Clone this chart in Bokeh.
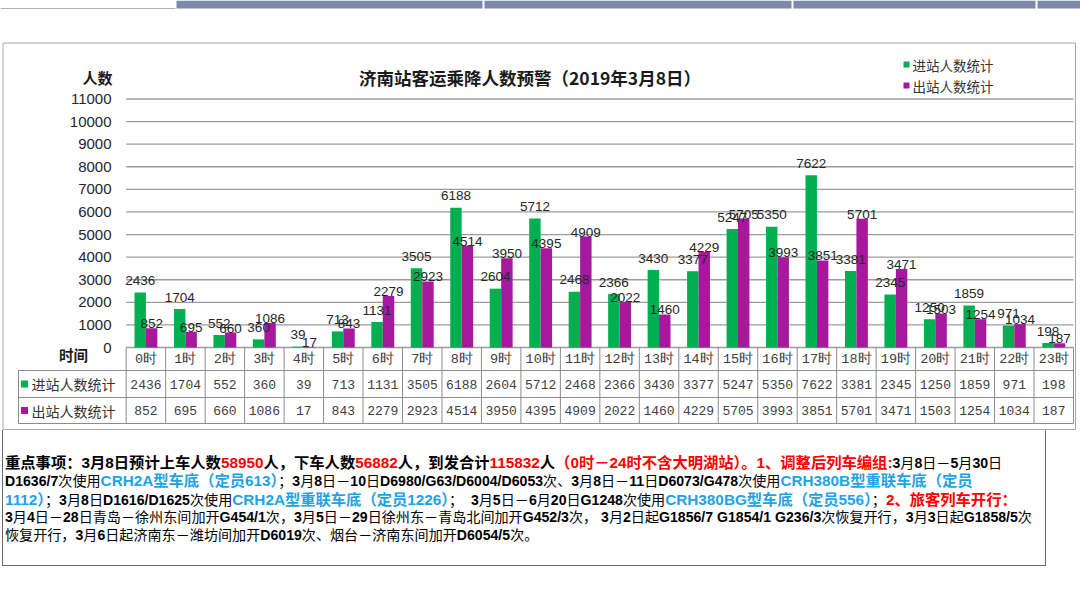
import re
from bokeh.plotting import figure
from bokeh.models import Range1d, Div
from bokeh.layouts import column
from bokeh.core.properties import value
from bokeh.embed import file_html
from bokeh.resources import INLINE

# ---------------- data ----------------
title_text = "济南站客运乘降人数预警（2019年3月8日）"
y_label = "人数"
x_label = "时间"
hours = ["0时", "1时", "2时", "3时", "4时", "5时", "6时", "7时", "8时", "9时", "10时", "11时",
         "12时", "13时", "14时", "15时", "16时", "17时", "18时", "19时", "20时", "21时", "22时", "23时"]
series_names = ["进站人数统计", "出站人数统计"]
entering = [2436, 1704, 552, 360, 39, 713, 1131, 3505, 6188, 2604, 5712, 2468,
            2366, 3430, 3377, 5247, 5350, 7622, 3381, 2345, 1250, 1859, 971, 198]
leaving = [852, 695, 660, 1086, 17, 843, 2279, 2923, 4514, 3950, 4395, 4909,
           2022, 1460, 4229, 5705, 3993, 3851, 5701, 3471, 1503, 1254, 1034, 187]
y_ticks = [0, 1000, 2000, 3000, 4000, 5000, 6000, 7000, 8000, 9000, 10000, 11000]

GREEN = "#00B050"
PURPLE = "#A6199E"
RED = "#FF0000"
BLUE = "#1FA3E3"
TXT = "#262626"
GRID = "#9c9c9c"
TABLE = "#8c8c8c"
TAB = "#7A8AA8"

# ---------------- layout (page pixel space) ----------------
W, H = 1080, 430
X0, X1 = 0.0, 1080.0
TOP, BOT = 0.0, 430.0
PL, PR = 125.7, 1073.0
PT, PB = 98.5, 347.0
n = len(hours)
colw = (PR - PL) / n
vpp = y_ticks[-1] / (PB - PT)

p = figure(width=W, height=H, x_range=Range1d(X0, X1), y_range=Range1d(BOT, TOP),
           output_backend="svg", toolbar_location=None,
           x_axis_location=None, y_axis_location=None, min_border=0,
           outline_line_color=None, background_fill_color="white")
p.extra_x_ranges = {"hx": Range1d((X0 - PL) / colw, (X1 - PL) / colw)}
p.extra_y_ranges = {"val": Range1d(-(BOT - PB) * vpp, (PB - TOP) * vpp)}
p.grid.visible = False

# spreadsheet tabs at the top
p.quad(left=[176, 484, 793, 1037], right=[482, 791, 1035, 1080], top=[0, 0, 0, 0],
       bottom=[8, 8, 8, 8], fill_color=TAB, line_color=None)
p.segment(x0=[0], x1=[175], y0=[8], y1=[8], line_color="#b0b0b0", line_width=1)

# chart box
p.quad(left=[2.5], right=[1075], top=[42.5], bottom=[429], fill_color=None,
       line_color="#a6a6a6", line_width=1)

# gridlines
p.segment(x0=[PL] * len(y_ticks), x1=[PR] * len(y_ticks), y0=y_ticks, y1=y_ticks,
          y_range_name="val", line_color=GRID, line_width=1.3)
# y tick labels
p.text(x=[111] * len(y_ticks), y=y_ticks, text=[str(t) for t in y_ticks], y_range_name="val",
       text_align="right", text_baseline="middle", text_font=value("Liberation Sans"),
       text_font_size="15px", text_color=TXT)

# bars
idx = list(range(n))
xg = [i + 0.5 - 0.145 for i in idx]
xp = [i + 0.5 + 0.145 for i in idx]
p.vbar(x=xg, top=entering, bottom=0, width=0.29, x_range_name="hx", y_range_name="val",
       fill_color=GREEN, line_color=None)
p.vbar(x=xp, top=leaving, bottom=0, width=0.29, x_range_name="hx", y_range_name="val",
       fill_color=PURPLE, line_color=None)

# data labels
p.text(x=xg, y=[v + 520 for v in entering], text=[str(v) for v in entering],
       x_range_name="hx", y_range_name="val", text_align="center", text_baseline="middle",
       text_font=value("Liberation Sans"), text_font_size="13.5px", text_color=TXT)
p.text(x=xp, y=[v + 200 for v in leaving], text=[str(v) for v in leaving],
       x_range_name="hx", y_range_name="val", text_align="center", text_baseline="middle",
       text_font=value("Liberation Sans"), text_font_size="13.5px", text_color=TXT)

# data table
cols = list(range(n + 1))
p.segment(x0=cols, x1=cols, y0=[PB] * (n + 1), y1=[423] * (n + 1), x_range_name="hx",
          line_color=TABLE, line_width=1)
p.segment(x0=[18, 18, 18], x1=[PR, PR, PR], y0=[370, 397, 423], y1=[370, 397, 423],
          line_color=TABLE, line_width=1)
p.segment(x0=[18], x1=[18], y0=[370], y1=[423], line_color=TABLE, line_width=1)

xc = [i + 0.5 for i in idx]
p.text(x=xc, y=[358.5] * n, text=hours, x_range_name="hx", text_align="center",
       text_baseline="middle", text_font=value("Liberation Mono"), text_font_size="13.5px",
       text_color="#404040")
p.text(x=xc, y=[383.5] * n, text=[str(v) for v in entering], x_range_name="hx",
       text_align="center", text_baseline="middle", text_font=value("Liberation Mono"),
       text_font_size="13px", text_color="#404040")
p.text(x=xc, y=[410] * n, text=[str(v) for v in leaving], x_range_name="hx",
       text_align="center", text_baseline="middle", text_font=value("Liberation Mono"),
       text_font_size="13px", text_color="#404040")

p.scatter(x=[24, 24], y=[383.5, 410], marker="square", size=7, color=[GREEN, PURPLE],
          line_color=None)
p.text(x=[31, 31], y=[383.5, 410], text=series_names, text_align="left",
       text_baseline="middle", text_font=value("Noto Sans CJK SC"), text_font_size="14px",
       text_color="#333333")

# legend
p.scatter(x=[906, 906], y=[64, 85], marker="square", size=6, color=[GREEN, PURPLE],
          line_color=None)
p.text(x=[912, 912], y=[64, 85], text=series_names, text_align="left",
       text_baseline="middle", text_font=value("Noto Sans CJK SC"), text_font_size="13.5px",
       text_color="#333333")

# titles
p.text(x=[529.5], y=[77], text=[title_text], text_align="center", text_baseline="middle",
       text_font=value("Noto Sans CJK SC"), text_font_style="bold", text_font_size="17.5px",
       text_color="#1a1a1a")
p.text(x=[112], y=[77], text=[y_label], text_align="right", text_baseline="middle",
       text_font=value("Noto Sans CJK SC"), text_font_style="bold", text_font_size="15px",
       text_color="#1a1a1a")
p.text(x=[73], y=[354], text=[x_label], text_align="center", text_baseline="middle",
       text_font=value("Noto Sans CJK SC"), text_font_style="bold", text_font_size="14.5px",
       text_color="#1a1a1a")

# ---------------- notes box ----------------
def seg(t, color="#000000", bold=False):
    if bold:
        return f'<span style="color:{color};font-weight:bold;font-size:15.3px">{t}</span>'
    t2 = re.sub(r'([A-Za-z0-9/:]+)', r'<b>\1</b>', t)
    return f'<span style="color:{color}">{t2}</span>'

lines = [
    seg("重点事项：3月8日预计上车人数", bold=True) + seg("58950", RED, True)
    + seg("人，下车人数", bold=True) + seg("56882", RED, True)
    + seg("人，到发合计", bold=True) + seg("115832", RED, True) + seg("人", bold=True)
    + seg("（0时－24时不含大明湖站）。1、调整后列车编组:", RED, True) + seg("3月8日－5月30日"),
    seg("D1636/7次使用") + seg("CRH2A型车底（定员613）", BLUE, True)
    + seg("；3月8日－10日D6980/G63/D6004/D6053次、3月8日－11日D6073/G478次使用")
    + seg("CRH380B型重联车底（定员", BLUE, True),
    seg("1112）", BLUE, True) + seg("；3月8日D1616/D1625次使用")
    + seg("CRH2A型重联车底（定员1226）", BLUE, True) + seg("；  3月5日－6月20日G1248次使用")
    + seg("CRH380BG型车底（定员556）", BLUE, True) + seg("；") + seg("2、旅客列车开行：", RED, True),
    seg("3月4日－28日青岛－徐州东间加开G454/1次，3月5日－29日徐州东－青岛北间加开G452/3次， 3月2日起G1856/7 G1854/1 G236/3次恢复开行，3月3日起G1858/5次"),
    seg("恢复开行，3月6日起济南东－潍坊间加开D6019次、烟台－济南东间加开D6054/5次。"),
]

html = ('<div style="width:1044px;height:136px;margin-left:2px;border:1px solid #6b6b6b;'
        'border-top:none;padding:24px 0 0 2px;box-sizing:border-box;'
        "font-family:'Liberation Sans','Noto Sans CJK SC',sans-serif;font-size:14.1px;"
        'line-height:17.4px;white-space:pre;color:#000;overflow:hidden">'
        + "<br>".join(lines) + '</div>')
div = Div(text=html, width=W, height=178, margin=(0, 0, 0, 0))

layout = column(p, div, spacing=0)
open("out.html", "w").write(file_html(layout, INLINE))
